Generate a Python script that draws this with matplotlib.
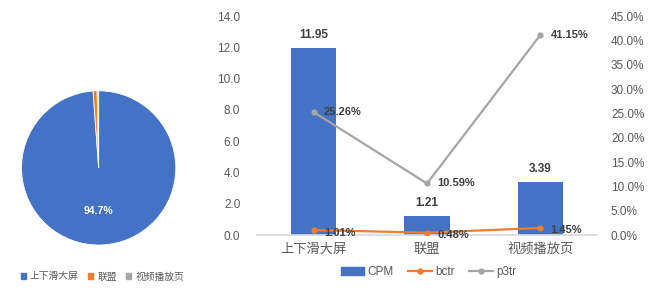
import matplotlib
matplotlib.use("Agg")
from matplotlib import pyplot as plt
from matplotlib.lines import Line2D
from matplotlib.patches import Patch

plt.rcParams['font.family'] = ['Liberation Sans', 'Noto Sans CJK SC', 'DejaVu Sans']

categories = ["上下滑大屏", "联盟", "视频播放页"]
pie_share = [94.7, 0.8, 0.3]
pie_label = "94.7%"
cpm = [11.95, 1.21, 3.39]
bctr = [1.01, 0.48, 1.45]
p3tr = [25.26, 10.59, 41.15]

blue = "#4472C4"
orange = "#ED7D31"
grey = "#A5A5A5"
txt = "#595959"

fig = plt.figure(figsize=(6.49, 2.88), dpi=100)

# pie
axp = fig.add_axes([0.032, 0.146, 0.240, 0.542])
axp.pie(pie_share, colors=[blue, orange, grey], startangle=90, counterclock=False,
        wedgeprops=dict(edgecolor="white", linewidth=0.6))
axp.set_xlim(-1.01, 1.01)
axp.set_ylim(-1.01, 1.01)
axp.text(0, -0.56, pie_label, color="white", fontsize=7.5, fontweight="bold",
         ha="center", va="center")
fig.legend(handles=[Patch(color=c) for c in [blue, orange, grey]], labels=categories,
           loc="center", bbox_to_anchor=(0.158, 0.04), ncol=3, frameon=False,
           fontsize=7, handlelength=0.5, handleheight=0.5, handletextpad=0.4,
           columnspacing=1.0, labelcolor=txt)

# bar + lines
ax = fig.add_axes([0.396, 0.184, 0.524, 0.760])
x = range(len(categories))
ax.bar(x, cpm, width=0.4, color=blue, zorder=2)
ax.set_ylim(0, 14)
ax.set_xlim(-0.5, 2.5)
ax.set_yticks([0, 2, 4, 6, 8, 10, 12, 14])
ax.set_yticklabels([f"{v:.1f}" for v in ax.get_yticks()])
ax.set_xticks(list(x))
ax.set_xticklabels(categories, color=txt)
for i, v in enumerate(cpm):
    ax.text(i, v + 0.45, f"{v:.2f}", ha="center", va="bottom", fontsize=8.5,
            color="#404040", fontweight="bold")

ax2 = ax.twinx()
ax2.plot(x, p3tr, color=grey, marker="o", markersize=3.5, linewidth=1.6, zorder=3)
ax2.plot(x, bctr, color=orange, marker="o", markersize=3.5, linewidth=1.6, zorder=3)
ax2.set_ylim(0, 45)
ax2.set_yticks([0, 5, 10, 15, 20, 25, 30, 35, 40, 45])
ax2.set_yticklabels([f"{v:.1f}%" for v in ax2.get_yticks()])
for i, v in enumerate(p3tr):
    ax2.text(i + 0.09, v, f"{v:.2f}%", ha="left", va="center", fontsize=8,
             color="#404040", fontweight="bold")
for i, v in enumerate(bctr):
    ax2.text(i + 0.09, v - 0.5, f"{v:.2f}%", ha="left", va="center", fontsize=8,
             color="#404040", fontweight="bold")

for a in (ax, ax2):
    for s in a.spines.values():
        s.set_visible(False)
    a.tick_params(length=0, colors=txt, labelsize=8.5)
ax.tick_params(axis="x", labelsize=9.5, pad=6)
ax.tick_params(axis="y", pad=12)
ax2.tick_params(axis="y", pad=10)
ax.spines["bottom"].set_visible(True)
ax.spines["bottom"].set_color("#D9D9D9")
ax.spines["bottom"].set_linewidth(1.2)

handles = [Patch(color=blue),
           Line2D([0], [0], color=orange, marker="o", markersize=3.5, linewidth=1.6),
           Line2D([0], [0], color=grey, marker="o", markersize=3.5, linewidth=1.6)]
fig.legend(handles=handles, labels=["CPM", "bctr", "p3tr"], loc="center",
           bbox_to_anchor=(0.66, 0.055), ncol=3, frameon=False, fontsize=8.5,
           handlelength=2.0, handleheight=0.6, handletextpad=0.3, columnspacing=1.2,
           labelcolor=txt)

fig.savefig("out.png", dpi=100)
